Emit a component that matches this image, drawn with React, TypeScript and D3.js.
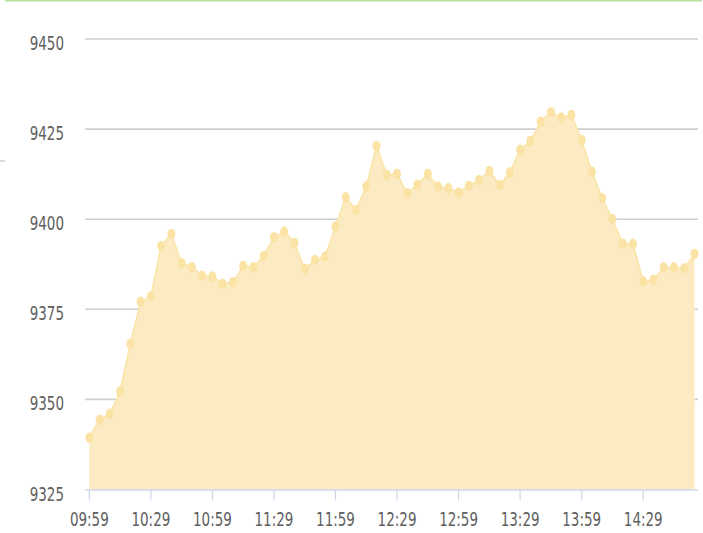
import { useEffect, useRef } from 'react';
import * as d3 from 'd3';

// 5-minute samples starting at 09:59
const startLabel = '09:59';
const stepMinutes = 5;
const values = [
  9339.4, 9344.4, 9346.0, 9352.2, 9365.4, 9377.1, 9378.6, 9392.6, 9395.9, 9387.8,
  9386.7, 9384.3, 9384.1, 9382.1, 9382.5, 9387.1, 9386.7, 9389.8, 9395.0, 9396.6,
  9393.4, 9386.2, 9388.7, 9389.7, 9398.0, 9406.1, 9402.6, 9409.1, 9420.3, 9412.3,
  9412.6, 9407.2, 9409.6, 9412.6, 9409.1, 9408.6, 9407.4, 9409.3, 9410.9, 9413.4,
  9409.5, 9413.0, 9419.3, 9421.7, 9427.1, 9429.7, 9428.2, 9428.9, 9422.0, 9413.2,
  9405.8, 9400.0, 9393.2, 9393.2, 9382.7, 9383.2, 9386.7, 9386.7, 9386.4, 9390.4,
];
const yTicks = [9325, 9350, 9375, 9400, 9425, 9450];
const xTickLabels = ['09:59', '10:29', '10:59', '11:29', '11:59', '12:29', '12:59', '13:29', '13:59', '14:29'];

const toMinutes = (s: string) => {
  const [h, m] = s.split(':').map(Number);
  return h * 60 + m;
};

export default function App() {
  const svgRef = useRef<SVGSVGElement>(null);

  useEffect(() => {
    if (!svgRef.current) return;
    const width = 703;
    const height = 533;
    const svg = d3.select(svgRef.current);
    svg.selectAll('*').remove();

    const t0 = toMinutes(startLabel);
    const data = values.map((v, i) => ({ m: i * stepMinutes, v }));
    const lastM = data[data.length - 1].m;

    const plotLeft = 85;
    const plotRight = 698;
    const x = d3.scaleLinear().domain([-2.1, lastM + 1.7]).range([plotLeft, plotRight]);
    const y = d3.scaleLinear().domain([9325, 9450]).range([489.5, 39]);

    // top border & little mark on the left
    svg.append('line')
      .attr('x1', 5).attr('x2', 702).attr('y1', 0.75).attr('y2', 0.75)
      .attr('stroke', '#b5e29a').attr('stroke-width', 1.5);
    svg.append('line')
      .attr('x1', 0).attr('x2', 5).attr('y1', 161).attr('y2', 161)
      .attr('stroke', '#cccccc').attr('stroke-width', 1.5);

    // grid lines
    svg.append('g')
      .selectAll('line')
      .data(yTicks.filter(d => d !== 9325))
      .join('line')
      .attr('x1', plotLeft).attr('x2', plotRight)
      .attr('y1', d => y(d)).attr('y2', d => y(d))
      .attr('stroke', '#cfcfcf').attr('stroke-width', 1.6);

    // area
    const area = d3.area<{ m: number; v: number }>()
      .x(d => x(d.m))
      .y0(y(9325))
      .y1(d => y(d.v));
    svg.append('path')
      .datum(data)
      .attr('d', area)
      .attr('fill', '#fcebc2');

    const line = d3.line<{ m: number; v: number }>()
      .x(d => x(d.m))
      .y(d => y(d.v));
    svg.append('path')
      .datum(data)
      .attr('d', line)
      .attr('fill', 'none')
      .attr('stroke', '#fae4a6')
      .attr('stroke-width', 1.5);

    svg.append('g')
      .selectAll('ellipse')
      .data(data)
      .join('ellipse')
      .attr('cx', d => x(d.m))
      .attr('cy', d => y(d.v))
      .attr('rx', 4)
      .attr('ry', 5.2)
      .attr('fill', '#fae3a4');

    // x axis line & ticks
    svg.append('line')
      .attr('x1', plotLeft).attr('x2', plotRight)
      .attr('y1', y(9325) + 0.5).attr('y2', y(9325) + 0.5)
      .attr('stroke', '#ccd6eb').attr('stroke-width', 1.5);

    const xt = svg.append('g')
      .selectAll('g')
      .data(xTickLabels)
      .join('g')
      .attr('transform', d => `translate(${x(toMinutes(d) - t0)},0)`);
    xt.append('line')
      .attr('y1', y(9325) + 1).attr('y2', y(9325) + 11)
      .attr('stroke', '#ccd6eb').attr('stroke-width', 1.2);
    xt.append('text')
      .attr('transform', `translate(0,${y(9325) + 36}) scale(1,1.33)`)
      .attr('text-anchor', 'middle')
      .style('font-family', '"DejaVu Sans Condensed", "DejaVu Sans", sans-serif')
      .style('font-size', '15px')
      .style('fill', '#606060')
      .text(d => d);

    // y labels
    svg.append('g')
      .selectAll('text')
      .data(yTicks)
      .join('text')
      .attr('transform', d => `translate(64,${y(d) + 11}) scale(1,1.33)`)
      .attr('text-anchor', 'end')
      .style('font-family', '"DejaVu Sans Condensed", "DejaVu Sans", sans-serif')
      .style('font-size', '15px')
      .style('fill', '#606060')
      .text(d => d);

    svg.attr('viewBox', `0 0 ${width} ${height}`);
  }, []);

  return (
    <svg
      ref={svgRef}
      width={703}
      height={533}
      style={{ position: 'absolute', left: 0, top: 0, background: '#fff' }}
    />
  );
}
